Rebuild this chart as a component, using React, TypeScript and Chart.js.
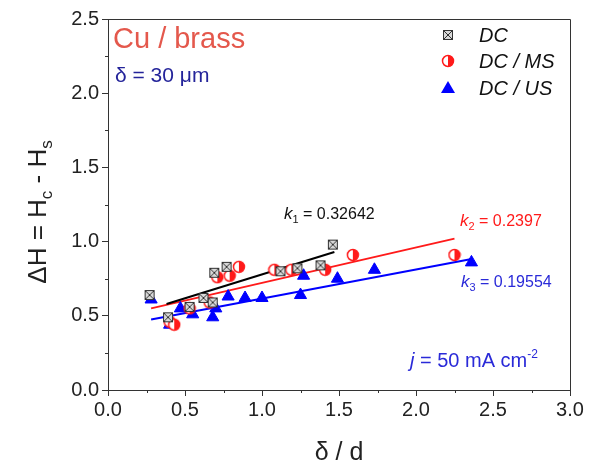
import React, { useEffect, useRef } from "react";
import { Chart, registerables } from "chart.js";

Chart.register(...registerables);

// DC (crossed squares)
const dcX = [0.27, 0.39, 0.53, 0.62, 0.68, 0.69, 0.77, 1.12, 1.23, 1.38, 1.46];
const dcY = [0.64, 0.49, 0.56, 0.62, 0.59, 0.79, 0.83, 0.8, 0.82, 0.84, 0.98];
// DC / MS (half-filled circles)
const msX = [0.4, 0.43, 0.53, 0.66, 0.71, 0.79, 0.85, 1.08, 1.19, 1.41, 1.59, 2.25];
const msY = [0.46, 0.44, 0.55, 0.59, 0.76, 0.77, 0.83, 0.81, 0.81, 0.81, 0.91, 0.91];
// DC / US (triangles)
const usX = [0.28, 0.4, 0.47, 0.55, 0.68, 0.7, 0.78, 0.89, 1.0, 1.25, 1.27, 1.49, 1.73, 2.36];
const usY = [0.61, 0.44, 0.55, 0.51, 0.49, 0.55, 0.63, 0.62, 0.62, 0.64, 0.77, 0.75, 0.81, 0.86];
// linear fit end points
const fitDCX = [0.38, 1.47];
const fitDCY = [0.58, 0.93];
const fitMSX = [0.28, 2.25];
const fitMSY = [0.55, 1.02];
const fitUSX = [0.28, 2.37];
const fitUSY = [0.475, 0.885];

const seriesNames = ["DC", "DC / MS", "DC / US"];
const slopeLabels = ["0.32642", "0.2397", "0.19554"];
const xTicks = [0, 0.5, 1, 1.5, 2, 2.5, 3];
const yTicks = [0, 0.5, 1, 1.5, 2, 2.5];

const FONT = "'Liberation Sans', Arial, sans-serif";
const BLUE = "#0000ff";
const RED = "#ff1a1a";

const pts = (xs: number[], ys: number[]) => xs.map((x, i) => ({ x, y: ys[i] }));

function makeDC(): HTMLCanvasElement {
  const c = document.createElement("canvas");
  c.width = 12;
  c.height = 12;
  const g = c.getContext("2d")!;
  g.fillStyle = "#d8d8d8";
  g.fillRect(1, 1, 10, 10);
  g.strokeStyle = "#333";
  g.lineWidth = 1;
  g.strokeRect(1.5, 1.5, 9, 9);
  g.beginPath();
  g.moveTo(2, 2);
  g.lineTo(10, 10);
  g.moveTo(10, 2);
  g.lineTo(2, 10);
  g.stroke();
  return c;
}

function makeMS(): HTMLCanvasElement {
  const c = document.createElement("canvas");
  c.width = 14;
  c.height = 14;
  const g = c.getContext("2d")!;
  g.fillStyle = "#fff";
  g.beginPath();
  g.arc(7, 7, 5.5, 0, Math.PI * 2);
  g.fill();
  g.fillStyle = RED;
  g.beginPath();
  g.arc(7, 7, 5.5, -Math.PI / 2, Math.PI / 2);
  g.closePath();
  g.fill();
  g.strokeStyle = RED;
  g.lineWidth = 1.5;
  g.beginPath();
  g.arc(7, 7, 5.5, 0, Math.PI * 2);
  g.stroke();
  return c;
}

type Seg = { t: string; font: string; color: string; dy?: number };

function drawRich(ctx: CanvasRenderingContext2D, x: number, y: number, segs: Seg[], align: "left" | "center" = "left") {
  ctx.save();
  ctx.textBaseline = "alphabetic";
  ctx.textAlign = "left";
  let total = 0;
  for (const s of segs) {
    ctx.font = s.font;
    total += ctx.measureText(s.t).width;
  }
  let cx = align === "center" ? x - total / 2 : x;
  for (const s of segs) {
    ctx.font = s.font;
    ctx.fillStyle = s.color;
    ctx.fillText(s.t, cx, y + (s.dy || 0));
    cx += ctx.measureText(s.t).width;
  }
  ctx.restore();
}

export default function App() {
  const ref = useRef<HTMLCanvasElement>(null);

  useEffect(() => {
    const dcImg = makeDC();
    const msImg = makeMS();

    const overlay = {
      id: "overlay",
      afterDraw(chart: any) {
        const ctx: CanvasRenderingContext2D = chart.ctx;
        const a = chart.chartArea;
        const xs = chart.scales.x;
        const ys = chart.scales.y;
        ctx.save();
        // frame
        ctx.strokeStyle = "#333";
        ctx.lineWidth = 1;
        ctx.beginPath();
        ctx.moveTo(Math.round(a.left) + 0.5, Math.round(a.top) + 0.5);
        ctx.lineTo(Math.round(a.right) + 0.5, Math.round(a.top) + 0.5);
        ctx.lineTo(Math.round(a.right) + 0.5, Math.round(a.bottom) + 0.5);
        ctx.stroke();
        // minor ticks
        ctx.beginPath();
        for (let v = 0.25; v < 3; v += 0.5) {
          const px = Math.round(xs.getPixelForValue(v)) + 0.5;
          ctx.moveTo(px, a.bottom);
          ctx.lineTo(px, a.bottom + 3);
        }
        for (let v = 0.25; v < 2.5; v += 0.5) {
          const py = Math.round(ys.getPixelForValue(v)) + 0.5;
          ctx.moveTo(a.left, py);
          ctx.lineTo(a.left - 3, py);
        }
        ctx.stroke();
        ctx.restore();

        // axis titles
        drawRich(ctx, (a.left + a.right) / 2, 460, [{ t: "δ / d", font: `25px ${FONT}`, color: "#222" }], "center");
        ctx.save();
        ctx.translate(46, 212);
        ctx.rotate(-Math.PI / 2);
        const big = `26px ${FONT}`;
        const sub = `17px ${FONT}`;
        drawRich(
          ctx,
          0,
          0,
          [
            { t: "ΔH = H", font: big, color: "#222" },
            { t: "c", font: sub, color: "#222", dy: 6 },
            { t: " - H", font: big, color: "#222" },
            { t: "s", font: sub, color: "#222", dy: 6 },
          ],
          "center"
        );
        ctx.restore();

        // annotations
        drawRich(ctx, 113, 48, [{ t: "Cu / brass", font: `29px ${FONT}`, color: "#e4584c" }]);
        drawRich(ctx, 115, 82, [{ t: "δ = 30 μm", font: `21px ${FONT}`, color: "#24249a" }]);
        const kf = `italic 17px ${FONT}`;
        const kn = `16px ${FONT}`;
        const ks = `11px ${FONT}`;
        drawRich(ctx, 284, 219, [
          { t: "k", font: kf, color: "#111" },
          { t: "1", font: ks, color: "#111", dy: 4 },
          { t: " = " + slopeLabels[0], font: kn, color: "#111" },
        ]);
        drawRich(ctx, 460, 226, [
          { t: "k", font: kf, color: RED },
          { t: "2", font: ks, color: RED, dy: 4 },
          { t: " = " + slopeLabels[1], font: kn, color: RED },
        ]);
        drawRich(ctx, 461, 287, [
          { t: "k", font: kf, color: "#2a2ad8" },
          { t: "3", font: ks, color: "#2a2ad8", dy: 4 },
          { t: " = " + slopeLabels[2], font: kn, color: "#2a2ad8" },
        ]);
        drawRich(ctx, 410, 367, [
          { t: "j", font: `italic 20px ${FONT}`, color: "#2a2ad8" },
          { t: " = 50 mA cm", font: `20px ${FONT}`, color: "#2a2ad8" },
          { t: "-2", font: `12px ${FONT}`, color: "#2a2ad8", dy: -9 },
        ]);

        // legend
        const rows = [35, 61, 88];
        const lx = 448;
        ctx.save();
        ctx.drawImage(dcImg, lx - 6, rows[0] - 6);
        ctx.drawImage(msImg, lx - 7, rows[1] - 7);
        ctx.fillStyle = BLUE;
        ctx.beginPath();
        ctx.moveTo(lx, rows[2] - 7);
        ctx.lineTo(lx + 7, rows[2] + 5);
        ctx.lineTo(lx - 7, rows[2] + 5);
        ctx.closePath();
        ctx.fill();
        ctx.restore();
        seriesNames.forEach((n, i) => {
          drawRich(ctx, 479, rows[i] + 7, [{ t: n, font: `italic 20px ${FONT}`, color: "#111" }]);
        });
      },
    };

    const chart = new Chart(ref.current!, {
      type: "scatter",
      data: {
        datasets: [
          {
            label: seriesNames[0],
            data: pts(dcX, dcY),
            pointStyle: dcImg as any,
            pointRadius: 6,
          },
          {
            label: seriesNames[1],
            data: pts(msX, msY),
            pointStyle: msImg as any,
            pointRadius: 6,
          },
          {
            label: seriesNames[2],
            data: pts(usX, usY),
            pointStyle: "triangle",
            pointRadius: 7,
            backgroundColor: BLUE,
            borderColor: BLUE,
            borderWidth: 1,
          },
          {
            label: "fit DC",
            data: pts(fitDCX, fitDCY),
            showLine: true,
            pointRadius: 0,
            borderColor: "#000",
            borderWidth: 2,
          },
          {
            label: "fit MS",
            data: pts(fitMSX, fitMSY),
            showLine: true,
            pointRadius: 0,
            borderColor: RED,
            borderWidth: 2,
          },
          {
            label: "fit US",
            data: pts(fitUSX, fitUSY),
            showLine: true,
            pointRadius: 0,
            borderColor: BLUE,
            borderWidth: 2,
          },
        ],
      },
      options: {
        animation: false,
        responsive: false,
        maintainAspectRatio: false,
        layout: { padding: { top: 19, right: 24, left: 0, bottom: 0 } },
        plugins: { legend: { display: false }, tooltip: { enabled: false } },
        scales: {
          x: {
            type: "linear",
            min: 0,
            max: 3,
            afterBuildTicks: (s: any) => {
              s.ticks = xTicks.map((v) => ({ value: v }));
            },
            afterFit: (s: any) => {
              s.height = 74;
            },
            ticks: {
              callback: (v: any) => Number(v).toFixed(1),
              font: { family: FONT, size: 20 },
              color: "#222",
              padding: 2,
              maxRotation: 0,
            },
            grid: { drawOnChartArea: false, tickLength: 6, color: "#333" },
            border: { color: "#333", width: 1 },
          },
          y: {
            type: "linear",
            min: 0,
            max: 2.5,
            afterBuildTicks: (s: any) => {
              s.ticks = yTicks.map((v) => ({ value: v }));
            },
            afterFit: (s: any) => {
              s.width = 108;
            },
            ticks: {
              callback: (v: any) => Number(v).toFixed(1),
              font: { family: FONT, size: 20 },
              color: "#222",
              padding: 3,
            },
            grid: { drawOnChartArea: false, tickLength: 6, color: "#333" },
            border: { color: "#333", width: 1 },
          },
        },
      },
      plugins: [overlay],
    });
    return () => chart.destroy();
  }, []);

  return (
    <div style={{ position: "fixed", left: 0, top: 0, width: 594, height: 464, background: "#fff" }}>
      <canvas ref={ref} width={594} height={464} style={{ width: 594, height: 464, display: "block" }} />
    </div>
  );
}
